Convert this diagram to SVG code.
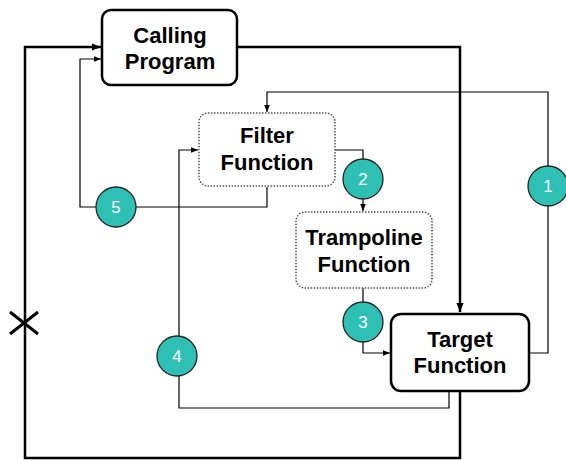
<svg xmlns="http://www.w3.org/2000/svg" width="566" height="460" viewBox="0 0 566 460">
<style>
.box{fill:#fff;stroke:#000;stroke-width:2.5}
.dbox{fill:#fff;stroke:#555;stroke-width:1.5;stroke-dasharray:1.5 1.5}
.lbl{font-family:"Liberation Sans",Arial,sans-serif;font-weight:bold;font-size:22px;fill:#000;text-anchor:middle}
.thick{fill:none;stroke:#000;stroke-width:2.5}
.thin{fill:none;stroke:#000;stroke-width:1.2}
.num{fill:#2ebfb5;stroke:#222;stroke-width:1.3}
.nt{font-family:"Liberation Sans",Arial,sans-serif;font-size:17px;fill:#fff;text-anchor:middle}
</style>
<defs>
<marker id="ah" viewBox="0 0 10 10" refX="10" refY="5" markerWidth="9" markerHeight="9" markerUnits="userSpaceOnUse" orient="auto">
<path d="M0,1 L10,5 L0,9 z" fill="#000"/>
</marker>
<marker id="ahs" viewBox="0 0 10 10" refX="10" refY="5" markerWidth="7" markerHeight="7" markerUnits="userSpaceOnUse" orient="auto">
<path d="M0,1 L10,5 L0,9 z" fill="#000"/>
</marker>
</defs>
<g id="connectors">
<polyline class="thick" points="237,47 460,47 460,312" marker-end="url(#ah)"/>
<polyline class="thick" points="460,392 460,458 25,458 25,47 101,47" marker-end="url(#ah)"/>
<polyline class="thin" points="529,353 548,353 548,92 267,92 267,112" marker-end="url(#ahs)"/>
<polyline class="thin" points="335,150 363,150 363,211" marker-end="url(#ahs)"/>
<polyline class="thin" points="363,288 363,353 390,353" marker-end="url(#ahs)"/>
<polyline class="thin" points="449,391 449,408 179,408 179,150 198,150" marker-end="url(#ahs)"/>
<polyline class="thin" points="267,187 267,207 80,207 80,59 101,59" marker-end="url(#ahs)"/>
<path d="M10,312 L38,334 M10,334 L38,312" stroke="#000" stroke-width="3" fill="none"/>
</g>
<g id="calling-program">
<rect class="box" x="102" y="10" width="135" height="75" rx="9"/>
<text class="lbl" x="170" y="43">Calling</text>
<text class="lbl" x="170" y="69">Program</text>
</g>
<g id="filter-function">
<rect class="dbox" x="199" y="113" width="136" height="73" rx="9"/>
<text class="lbl" x="267" y="143">Filter</text>
<text class="lbl" x="267" y="170">Function</text>
</g>
<g id="trampoline-function">
<rect class="dbox" x="296" y="212" width="136" height="76" rx="9"/>
<text class="lbl" x="364" y="245">Trampoline</text>
<text class="lbl" x="364" y="272">Function</text>
</g>
<g id="target-function">
<rect class="box" x="391" y="314" width="138" height="77" rx="10"/>
<text class="lbl" x="460" y="347">Target</text>
<text class="lbl" x="460" y="373">Function</text>
</g>
<g id="step-1"><circle class="num" cx="548" cy="186" r="20"/><text class="nt" x="548" y="192">1</text></g>
<g id="step-2"><circle class="num" cx="363" cy="179" r="20"/><text class="nt" x="363" y="185">2</text></g>
<g id="step-3"><circle class="num" cx="363" cy="322" r="20"/><text class="nt" x="363" y="328">3</text></g>
<g id="step-4"><circle class="num" cx="177" cy="356" r="20"/><text class="nt" x="177" y="362">4</text></g>
<g id="step-5"><circle class="num" cx="116" cy="207" r="20"/><text class="nt" x="116" y="213">5</text></g>
</svg>
